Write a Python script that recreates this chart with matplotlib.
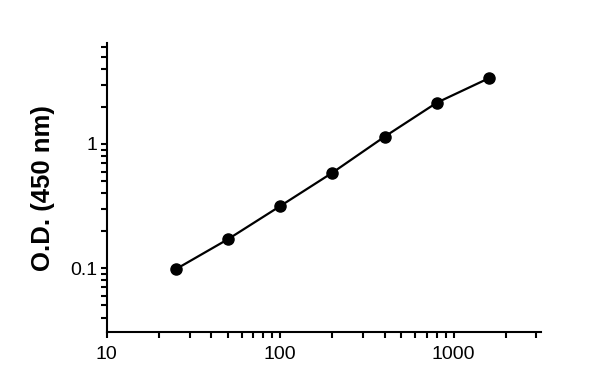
import numpy as np
import matplotlib
matplotlib.use("Agg")
import matplotlib.pyplot as plt
from matplotlib.ticker import LogLocator, FixedLocator, FixedFormatter, NullFormatter

plt.rcParams['font.family'] = ['Liberation Sans', 'DejaVu Sans']

# concentration vs optical density
conc = [25, 50, 100, 200, 400, 800, 1600]
od = [0.098, 0.171, 0.316, 0.587, 1.145, 2.15, 3.39]

x_ticks = [10, 100, 1000]
x_labels = ['10', '100', '1000']
y_ticks = [0.1, 1]
y_labels = ['0.1', '1']

fig = plt.figure(figsize=(6, 3.88), dpi=100)
ax = fig.add_axes([0.178, 0.144, 0.724, 0.745])

ax.plot(conc, od, '-', color='black', lw=1.6)
ax.plot(conc, od, 'o', color='black', ms=8)

ax.set_xscale('log')
ax.set_yscale('log')
ax.set_xlim(10, 3200)
ax.set_ylim(0.0305, 6.5)

ax.xaxis.set_major_locator(FixedLocator(x_ticks))
ax.xaxis.set_major_formatter(FixedFormatter(x_labels))
ax.xaxis.set_minor_locator(LogLocator(base=10, subs=np.arange(2, 10)))
ax.xaxis.set_minor_formatter(NullFormatter())
ax.yaxis.set_major_locator(FixedLocator(y_ticks))
ax.yaxis.set_major_formatter(FixedFormatter(y_labels))
ax.yaxis.set_minor_locator(LogLocator(base=10, subs=np.arange(2, 10)))
ax.yaxis.set_minor_formatter(NullFormatter())

for s in ['top', 'right']:
    ax.spines[s].set_visible(False)
for s in ['left', 'bottom']:
    ax.spines[s].set_linewidth(1.5)

ax.tick_params(which='both', direction='out', width=1.5, length=4.3, color='black')
ax.tick_params(axis='x', which='major', pad=6, labelsize=14)
ax.tick_params(axis='y', which='major', pad=2.5, labelsize=14)

ax.set_ylabel('O.D. (450 nm)', fontsize=18.5, fontweight='bold', labelpad=11)

fig.savefig('out.png', dpi=100)
